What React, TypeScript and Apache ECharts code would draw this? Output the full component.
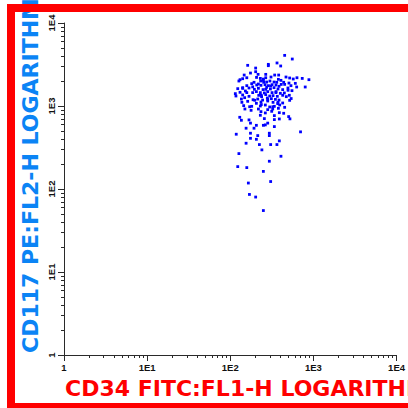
import React, { useEffect, useRef } from 'react';
import * as echarts from 'echarts';

// Scatter values (CD34 FITC on x, CD117 PE on y)
const xValues = [
  451, 557, 162, 287, 365, 404, 287, 202, 202, 147, 175, 216, 267, 342, 382, 468,
  131, 141, 158, 230, 250, 267, 309, 379, 407, 518, 572, 634, 734, 883,
  127, 193, 232, 252, 274, 300, 336, 362, 439, 508, 606,
  158, 181, 208, 234, 262, 287, 318, 355, 386, 451, 537, 629, 797,
  123, 141, 168, 195, 218, 248, 274, 304, 336, 375, 427, 494, 552,
  115, 131, 152, 186, 206, 230, 257, 282, 318, 355, 400, 447,
  117, 141, 168, 220, 238, 267, 298, 327, 368, 472, 513,
  136, 188, 214, 245, 279, 312, 349, 386, 518,
  138, 162, 206, 234, 282, 327, 372, 427,
  145, 181, 230, 264, 298, 339, 393,
  150, 218, 282, 324, 379, 451,
  178, 234, 264, 315, 389, 439,
  230, 339, 504,
  130, 136, 168, 257, 339, 389, 522, 175,
  206, 250, 264, 282, 339, 155, 193, 700, 118, 175, 214, 295, 295, 175, 206, 389,
  155, 224, 306, 364, 240, 127, 407, 295, 123, 158, 250, 306, 165, 170, 202, 250,
  141, 158, 186, 218, 236, 267, 306, 354, 427, 495,
  197, 236, 282, 325, 375, 171, 250, 410, 207, 540, 149,
];
const yValues = [
  4074, 3680, 3090, 3175, 3300, 3035, 3060, 2865, 2590, 2360, 2495, 2405, 2405, 2360, 2360, 2234,
  2075, 2133, 2190, 2150, 2110, 2190, 2234, 2095, 2037, 2175, 2115, 2190, 2150, 2075,
  2000, 1930, 2000, 1930, 1945, 2000, 1945, 1930, 1930, 1890, 1875,
  1758, 1858, 1790, 1774, 1806, 1758, 1806, 1790, 1726, 1822, 1758, 1694, 1694,
  1618, 1664, 1648, 1588, 1633, 1575, 1679, 1603, 1664, 1603, 1575, 1648, 1531,
  1409, 1462, 1517, 1449, 1490, 1449, 1436, 1490, 1449, 1490, 1422, 1436,
  1320, 1358, 1308, 1346, 1296, 1371, 1320, 1333, 1308, 1296, 1346,
  1213, 1190, 1213, 1180, 1248, 1225, 1202, 1180, 1170,
  1107, 1138, 1077, 1117, 1149, 1107, 1067, 1087,
  1010, 991, 1000, 1028, 973, 991, 1028,
  920, 920, 904, 920, 938, 964,
  887, 855, 825, 863, 831, 817,
  773, 766, 745,
  731, 673, 680, 705, 686, 698, 700, 622,
  585, 585, 592, 622, 565, 540, 540, 488, 457, 470, 440, 470, 440, 408, 397, 380,
  356, 343, 343, 343, 296, 267, 248, 216, 186, 181, 163, 123, 118, 86, 80, 55,
  1630, 1450, 1700, 1840, 1346, 1590, 1740, 1450, 1346, 1546,
  1172, 1040, 1200, 980, 1110, 980, 2040, 1820, 2210, 1230, 1260,
];

const tickValues = [1, 10, 100, 1000, 10000];
const tickLabels = ['1', '1E1', '1E2', '1E3', '1E4'];
const minorMultipliers = [2, 3, 4, 5, 6, 7, 8, 9];
const minorDecades = [1, 10, 100, 1000];
const xTitle = 'CD34 FITC:FL1-H LOGARITHMIC';
const yTitle = 'CD117 PE:FL2-H LOGARITHMIC';

const minorValues: number[] = [];
minorDecades.forEach((d) => minorMultipliers.forEach((m) => minorValues.push(d * m)));

const labelFormatter = (v: number) => {
  const i = tickValues.findIndex((t) => Math.abs(t - v) / t < 1e-6);
  return i >= 0 ? tickLabels[i] : '';
};

const AXIS_COLOR = '#2a2a2a';
const labelFont = {
  fontFamily: '"Liberation Sans", Arial, sans-serif',
  fontWeight: 'bold' as const,
  fontSize: 9.5,
  color: '#111',
};

function majorAxis(isY: boolean) {
  return {
    type: 'log',
    logBase: 10,
    min: 1,
    max: 10000,
    position: isY ? 'left' : 'bottom',
    axisLine: { show: true, onZero: false, lineStyle: { color: AXIS_COLOR, width: 1 } },
    axisTick: { show: true, length: 6, customValues: tickValues, lineStyle: { color: AXIS_COLOR, width: 1 } },
    axisLabel: {
      show: true,
      customValues: tickValues,
      formatter: labelFormatter,
      margin: isY ? 8 : 7,
      rotate: isY ? 90 : 0,
      ...labelFont,
    },
    splitLine: { show: false },
    minorTick: { show: false },
  };
}

function minorAxis(isY: boolean) {
  return {
    type: 'log',
    logBase: 10,
    min: 1,
    max: 10000,
    position: isY ? 'left' : 'bottom',
    axisLine: { show: false, onZero: false },
    axisTick: { show: true, length: 3, customValues: minorValues, lineStyle: { color: AXIS_COLOR, width: 1 } },
    axisLabel: { show: false },
    splitLine: { show: false },
    minorTick: { show: false },
  };
}

export default function App() {
  const ref = useRef<HTMLDivElement>(null);
  useEffect(() => {
    if (!ref.current) return;
    const chart = echarts.init(ref.current, undefined, { renderer: 'svg' });
    const titleFont = {
      fontFamily: '"DejaVu Sans", sans-serif',
      fontWeight: 'bold' as const,
      fontSize: 22,
    };
    chart.setOption({
      animation: false,
      backgroundColor: '#ffffff',
      grid: { left: 64, top: 23, width: 333, height: 332, containLabel: false },
      xAxis: [majorAxis(false), minorAxis(false)],
      yAxis: [majorAxis(true), minorAxis(true)],
      series: [
        {
          type: 'scatter',
          xAxisIndex: 0,
          yAxisIndex: 0,
          symbol: 'rect',
          symbolSize: 2.8,
          itemStyle: { color: '#0000ff', opacity: 1 },
          data: xValues.map((x, i) => [x, yValues[i]]),
          z: 3,
        },
      ],
      graphic: [
        {
          type: 'text',
          x: 65,
          y: 388,
          z: 10,
          style: { text: xTitle, fill: '#ff0000', align: 'left', verticalAlign: 'middle', ...titleFont },
        },
        {
          type: 'text',
          x: 30,
          y: 353,
          rotation: Math.PI / 2,
          z: 10,
          style: { text: yTitle, fill: '#0b84f5', align: 'left', verticalAlign: 'middle', ...titleFont },
        },
        { type: 'rect', z: 100, shape: { x: 7, y: 4, width: 8, height: 410 }, style: { fill: '#ff0000' } },
        { type: 'rect', z: 100, shape: { x: 7, y: 4, width: 410, height: 8 }, style: { fill: '#ff0000' } },
        { type: 'rect', z: 100, shape: { x: 7, y: 403, width: 410, height: 8 }, style: { fill: '#ff0000' } },
      ],
    });
    return () => chart.dispose();
  }, []);
  return (
    <div
      ref={ref}
      style={{ position: 'fixed', left: 0, top: 0, width: 408, height: 408, background: '#fff' }}
    />
  );
}
